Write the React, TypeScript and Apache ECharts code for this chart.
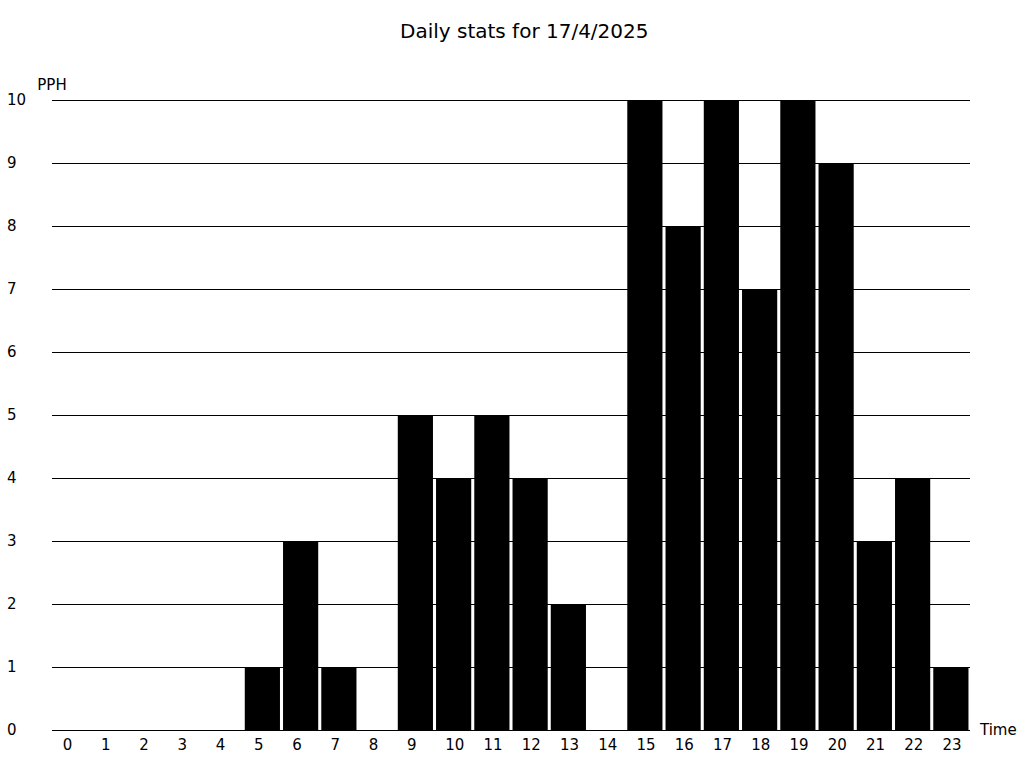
import React, { useEffect, useRef } from "react";
import * as echarts from "echarts";

const hours: string[] = Array.from({ length: 24 }, (_, i) => String(i));
const pph: number[] = [0, 0, 0, 0, 0, 1, 3, 1, 0, 5, 4, 5, 4, 2, 0, 10, 8, 10, 7, 10, 9, 3, 4, 1];
const titleText = "Daily stats for 17/4/2025";

export default function App() {
  const ref = useRef<HTMLDivElement>(null);
  useEffect(() => {
    document.body.style.margin = "0";
    const chart = echarts.init(ref.current!, null, { renderer: "svg" });
    chart.setOption({
      animation: false,
      backgroundColor: "#ffffff",
      textStyle: { fontFamily: "DejaVu Sans" },
      title: {
        text: titleText,
        left: 395,
        top: 16,
        textStyle: { fontSize: 20, fontWeight: "normal", color: "#000", fontFamily: "DejaVu Sans" },
      },
      grid: { left: 52, right: 54, top: 100, bottom: 38, containLabel: false },
      xAxis: {
        type: "category",
        data: hours,
        name: "Time",
        nameGap: 10,
        nameTextStyle: { fontSize: 15, color: "#000", verticalAlign: "middle" },
        axisLine: { show: false },
        axisTick: { show: false },
        axisLabel: {
          fontSize: 15,
          color: "#000",
          margin: 7,
          interval: 0,
          align: "center",
          formatter: (v: string) => `{a|${v}}`,
          rich: { a: { width: 17, align: "left", fontSize: 15, color: "#000", fontFamily: "DejaVu Sans" } },
        },
      },
      yAxis: {
        type: "value",
        min: 0,
        max: 10,
        interval: 1,
        name: "PPH",
        nameGap: 8,
        nameTextStyle: { fontSize: 15, color: "#000", align: "center" },
        axisLine: { show: false },
        axisTick: { show: false },
        axisLabel: { fontSize: 15, color: "#000", align: "left", margin: 45 },
        splitLine: { show: true, lineStyle: { color: "#000", width: 1 } },
      },
      series: [
        {
          type: "bar",
          data: pph,
          barCategoryGap: "8%",
          itemStyle: { color: "#000" },
        },
      ],
    });
    return () => chart.dispose();
  }, []);
  return <div ref={ref} style={{ width: 1024, height: 768 }} />;
}
